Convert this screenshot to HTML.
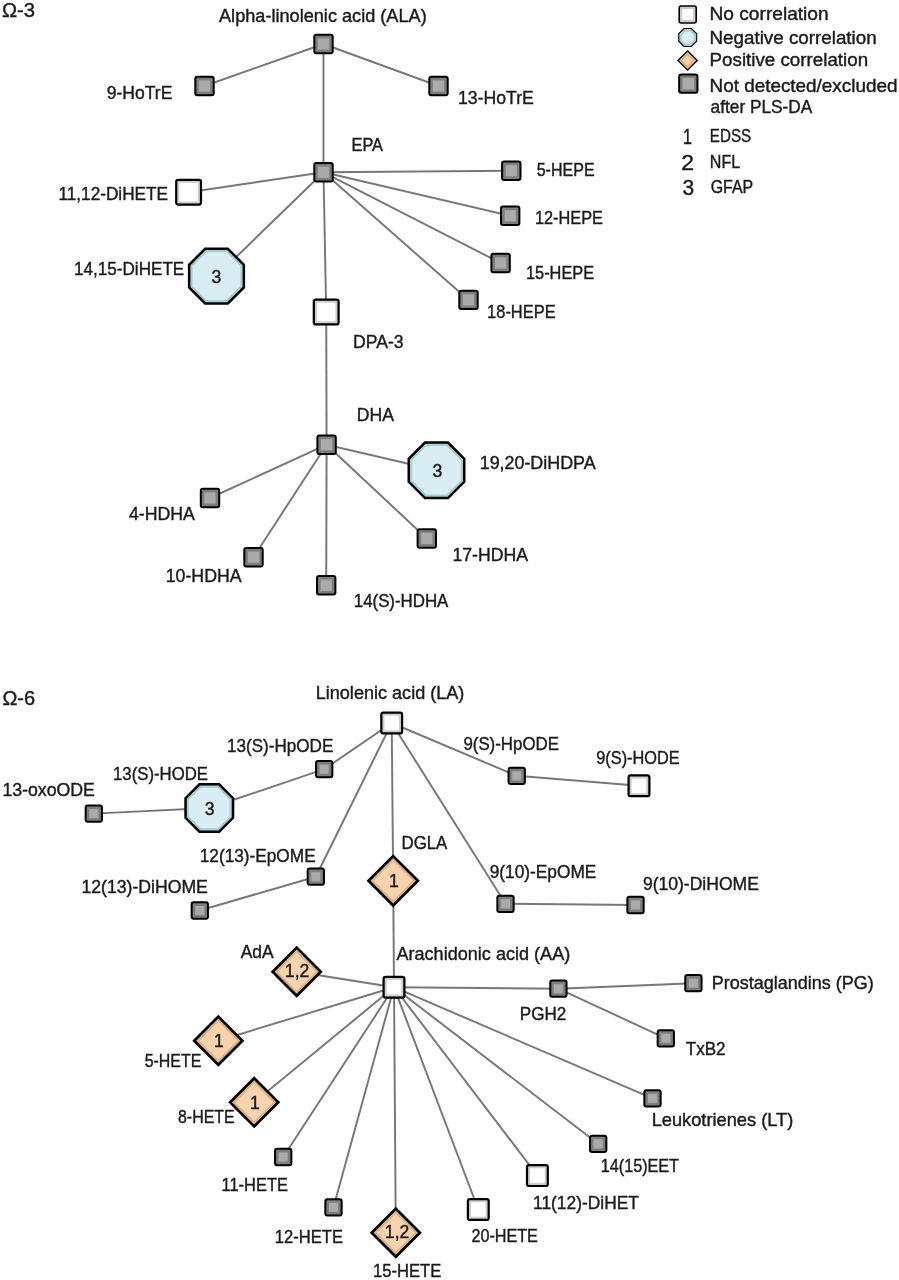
<!DOCTYPE html>
<html><head><meta charset="utf-8"><title>Omega-3 and Omega-6 pathways</title>
<style>html,body{margin:0;padding:0;background:#fff}svg{display:block}text{stroke:#1a1a1a;stroke-width:0.4px;font-family:"Liberation Sans","DejaVu Sans",sans-serif;fill:#1a1a1a}</style></head>
<body>
<svg width="899" height="1280" viewBox="0 0 899 1280">
<rect width="899" height="1280" fill="#fff"/>
<g stroke="#777" stroke-width="1.95" fill="none">
<line x1="323.5" y1="44" x2="204.5" y2="86"/>
<line x1="323.5" y1="44" x2="438.5" y2="86"/>
<line x1="323.5" y1="44" x2="323.5" y2="172.3"/>
<line x1="323.5" y1="172.3" x2="188.6" y2="192.2"/>
<line x1="323.5" y1="172.3" x2="216.5" y2="276.1"/>
<line x1="323.5" y1="172.3" x2="511.3" y2="170.7"/>
<line x1="323.5" y1="172.3" x2="510.2" y2="215.8"/>
<line x1="323.5" y1="172.3" x2="500.6" y2="263.0"/>
<line x1="323.5" y1="172.3" x2="468.5" y2="299.9"/>
<line x1="323.5" y1="172.3" x2="326.2" y2="312"/>
<line x1="326.2" y1="312" x2="326.6" y2="444.7"/>
<line x1="326.6" y1="444.7" x2="436.5" y2="470.3"/>
<line x1="326.6" y1="444.7" x2="210" y2="498.0"/>
<line x1="326.6" y1="444.7" x2="253.5" y2="557.2"/>
<line x1="326.6" y1="444.7" x2="326.2" y2="585.3"/>
<line x1="326.6" y1="444.7" x2="426.8" y2="538.5"/>
<line x1="391.7" y1="723" x2="324.2" y2="769.2"/>
<line x1="324.2" y1="769.2" x2="209.3" y2="808.0"/>
<line x1="209.3" y1="808.0" x2="93.8" y2="813.6"/>
<line x1="391.7" y1="723" x2="516.7" y2="775.8"/>
<line x1="516.7" y1="775.8" x2="639" y2="785.8"/>
<line x1="391.7" y1="723" x2="315.8" y2="876.7"/>
<line x1="315.8" y1="876.7" x2="199.8" y2="910.5"/>
<line x1="391.7" y1="723" x2="393.2" y2="880.8"/>
<line x1="391.7" y1="723" x2="505.5" y2="903.8"/>
<line x1="505.5" y1="903.8" x2="635.5" y2="905"/>
<line x1="393.2" y1="880.8" x2="394" y2="987.2"/>
<line x1="394" y1="987.2" x2="296.7" y2="971.7"/>
<line x1="394" y1="987.2" x2="218.3" y2="1040.7"/>
<line x1="394" y1="987.2" x2="254.2" y2="1102.3"/>
<line x1="394" y1="987.2" x2="283.2" y2="1157.0"/>
<line x1="394" y1="987.2" x2="333.5" y2="1207.3"/>
<line x1="394" y1="987.2" x2="395.8" y2="1232.7"/>
<line x1="394" y1="987.2" x2="478.3" y2="1209.5"/>
<line x1="394" y1="987.2" x2="537.4" y2="1175.6"/>
<line x1="394" y1="987.2" x2="598.2" y2="1143.8"/>
<line x1="394" y1="987.2" x2="652.5" y2="1098.3"/>
<line x1="394" y1="987.2" x2="558.4" y2="988.7"/>
<line x1="558.4" y1="988.7" x2="693.4" y2="983.2"/>
<line x1="558.4" y1="988.7" x2="665.8" y2="1038.3"/>
</g>
<g>
<rect x="314.30" y="34.80" width="18.40" height="18.40" rx="2" fill="#7e7e7e" stroke="#000" stroke-width="2.0"/><rect x="317.90" y="38.40" width="11.20" height="11.20" fill="#aaaaaa"/>
<rect x="195.30" y="76.80" width="18.40" height="18.40" rx="2" fill="#7e7e7e" stroke="#000" stroke-width="2.0"/><rect x="198.90" y="80.40" width="11.20" height="11.20" fill="#aaaaaa"/>
<rect x="429.30" y="76.80" width="18.40" height="18.40" rx="2" fill="#7e7e7e" stroke="#000" stroke-width="2.0"/><rect x="432.90" y="80.40" width="11.20" height="11.20" fill="#aaaaaa"/>
<rect x="314.30" y="163.10" width="18.40" height="18.40" rx="2" fill="#7e7e7e" stroke="#000" stroke-width="2.0"/><rect x="317.90" y="166.70" width="11.20" height="11.20" fill="#aaaaaa"/>
<rect x="176.20" y="179.80" width="24.80" height="24.80" rx="2" fill="#cdcdcd" stroke="#000" stroke-width="2.2"/><rect x="179.30" y="182.90" width="18.60" height="18.60" fill="#ffffff"/>
<polygon points="205.17,248.75 227.83,248.75 243.85,264.77 243.85,287.43 227.83,303.45 205.17,303.45 189.15,287.43 189.15,264.77" fill="#a9cdd1" stroke="#000" stroke-width="2.5" stroke-linejoin="miter"/><polygon points="206.60,252.20 226.40,252.20 240.40,266.20 240.40,286.00 226.40,300.00 206.60,300.00 192.60,286.00 192.60,266.20" fill="#d9eef4"/>
<rect x="502.10" y="161.50" width="18.40" height="18.40" rx="2" fill="#7e7e7e" stroke="#000" stroke-width="2.0"/><rect x="505.70" y="165.10" width="11.20" height="11.20" fill="#aaaaaa"/>
<rect x="501.00" y="206.60" width="18.40" height="18.40" rx="2" fill="#7e7e7e" stroke="#000" stroke-width="2.0"/><rect x="504.60" y="210.20" width="11.20" height="11.20" fill="#aaaaaa"/>
<rect x="491.40" y="253.80" width="18.40" height="18.40" rx="2" fill="#7e7e7e" stroke="#000" stroke-width="2.0"/><rect x="495.00" y="257.40" width="11.20" height="11.20" fill="#aaaaaa"/>
<rect x="459.30" y="290.70" width="18.40" height="18.40" rx="2" fill="#7e7e7e" stroke="#000" stroke-width="2.0"/><rect x="462.90" y="294.30" width="11.20" height="11.20" fill="#aaaaaa"/>
<rect x="313.80" y="299.60" width="24.80" height="24.80" rx="2" fill="#cdcdcd" stroke="#000" stroke-width="2.2"/><rect x="316.90" y="302.70" width="18.60" height="18.60" fill="#ffffff"/>
<rect x="317.40" y="435.50" width="18.40" height="18.40" rx="2" fill="#7e7e7e" stroke="#000" stroke-width="2.0"/><rect x="321.00" y="439.10" width="11.20" height="11.20" fill="#aaaaaa"/>
<polygon points="425.01,442.55 447.99,442.55 464.25,458.81 464.25,481.79 447.99,498.05 425.01,498.05 408.75,481.79 408.75,458.81" fill="#a9cdd1" stroke="#000" stroke-width="2.5" stroke-linejoin="miter"/><polygon points="426.43,446.00 446.57,446.00 460.80,460.23 460.80,480.37 446.57,494.60 426.43,494.60 412.20,480.37 412.20,460.23" fill="#d9eef4"/>
<rect x="200.80" y="488.80" width="18.40" height="18.40" rx="2" fill="#7e7e7e" stroke="#000" stroke-width="2.0"/><rect x="204.40" y="492.40" width="11.20" height="11.20" fill="#aaaaaa"/>
<rect x="244.30" y="548.00" width="18.40" height="18.40" rx="2" fill="#7e7e7e" stroke="#000" stroke-width="2.0"/><rect x="247.90" y="551.60" width="11.20" height="11.20" fill="#aaaaaa"/>
<rect x="317.00" y="576.10" width="18.40" height="18.40" rx="2" fill="#7e7e7e" stroke="#000" stroke-width="2.0"/><rect x="320.60" y="579.70" width="11.20" height="11.20" fill="#aaaaaa"/>
<rect x="417.60" y="529.30" width="18.40" height="18.40" rx="2" fill="#7e7e7e" stroke="#000" stroke-width="2.0"/><rect x="421.20" y="532.90" width="11.20" height="11.20" fill="#aaaaaa"/>
<rect x="381.30" y="712.60" width="20.80" height="20.80" rx="2" fill="#cdcdcd" stroke="#000" stroke-width="2.2"/><rect x="384.40" y="715.70" width="14.60" height="14.60" fill="#ffffff"/>
<rect x="316.05" y="761.05" width="16.30" height="16.30" rx="2" fill="#7e7e7e" stroke="#000" stroke-width="2.0"/><rect x="319.65" y="764.65" width="9.10" height="9.10" fill="#aaaaaa"/>
<polygon points="199.46,784.25 219.14,784.25 233.05,798.16 233.05,817.84 219.14,831.75 199.46,831.75 185.55,817.84 185.55,798.16" fill="#a9cdd1" stroke="#000" stroke-width="2.5" stroke-linejoin="miter"/><polygon points="200.89,787.70 217.71,787.70 229.60,799.59 229.60,816.41 217.71,828.30 200.89,828.30 189.00,816.41 189.00,799.59" fill="#d9eef4"/>
<rect x="85.65" y="805.45" width="16.30" height="16.30" rx="2" fill="#7e7e7e" stroke="#000" stroke-width="2.0"/><rect x="89.25" y="809.05" width="9.10" height="9.10" fill="#aaaaaa"/>
<rect x="508.55" y="767.65" width="16.30" height="16.30" rx="2" fill="#7e7e7e" stroke="#000" stroke-width="2.0"/><rect x="512.15" y="771.25" width="9.10" height="9.10" fill="#aaaaaa"/>
<rect x="628.60" y="775.40" width="20.80" height="20.80" rx="2" fill="#cdcdcd" stroke="#000" stroke-width="2.2"/><rect x="631.70" y="778.50" width="14.60" height="14.60" fill="#ffffff"/>
<rect x="307.65" y="868.55" width="16.30" height="16.30" rx="2" fill="#7e7e7e" stroke="#000" stroke-width="2.0"/><rect x="311.25" y="872.15" width="9.10" height="9.10" fill="#aaaaaa"/>
<rect x="191.65" y="902.35" width="16.30" height="16.30" rx="2" fill="#7e7e7e" stroke="#000" stroke-width="2.0"/><rect x="195.25" y="905.95" width="9.10" height="9.10" fill="#aaaaaa"/>
<polygon points="393.20,856.11 417.89,880.80 393.20,905.49 368.51,880.80" fill="#dcb38a" stroke="#000" stroke-width="2.7" stroke-linejoin="miter"/><polygon points="393.20,861.27 412.73,880.80 393.20,900.33 373.67,880.80" fill="#f9d3ad"/>
<rect x="497.35" y="895.65" width="16.30" height="16.30" rx="2" fill="#7e7e7e" stroke="#000" stroke-width="2.0"/><rect x="500.95" y="899.25" width="9.10" height="9.10" fill="#aaaaaa"/>
<rect x="627.35" y="896.85" width="16.30" height="16.30" rx="2" fill="#7e7e7e" stroke="#000" stroke-width="2.0"/><rect x="630.95" y="900.45" width="9.10" height="9.10" fill="#aaaaaa"/>
<rect x="383.60" y="976.80" width="20.80" height="20.80" rx="2" fill="#cdcdcd" stroke="#000" stroke-width="2.2"/><rect x="386.70" y="979.90" width="14.60" height="14.60" fill="#ffffff"/>
<polygon points="296.70,947.61 320.79,971.70 296.70,995.79 272.61,971.70" fill="#dcb38a" stroke="#000" stroke-width="2.7" stroke-linejoin="miter"/><polygon points="296.70,952.77 315.63,971.70 296.70,990.63 277.77,971.70" fill="#f9d3ad"/>
<polygon points="218.30,1016.61 242.39,1040.70 218.30,1064.79 194.21,1040.70" fill="#dcb38a" stroke="#000" stroke-width="2.7" stroke-linejoin="miter"/><polygon points="218.30,1021.77 237.23,1040.70 218.30,1059.63 199.37,1040.70" fill="#f9d3ad"/>
<polygon points="254.20,1078.21 278.29,1102.30 254.20,1126.39 230.11,1102.30" fill="#dcb38a" stroke="#000" stroke-width="2.7" stroke-linejoin="miter"/><polygon points="254.20,1083.37 273.13,1102.30 254.20,1121.23 235.27,1102.30" fill="#f9d3ad"/>
<rect x="275.05" y="1148.85" width="16.30" height="16.30" rx="2" fill="#7e7e7e" stroke="#000" stroke-width="2.0"/><rect x="278.65" y="1152.45" width="9.10" height="9.10" fill="#aaaaaa"/>
<rect x="325.35" y="1199.15" width="16.30" height="16.30" rx="2" fill="#7e7e7e" stroke="#000" stroke-width="2.0"/><rect x="328.95" y="1202.75" width="9.10" height="9.10" fill="#aaaaaa"/>
<polygon points="395.80,1208.61 419.89,1232.70 395.80,1256.79 371.71,1232.70" fill="#dcb38a" stroke="#000" stroke-width="2.7" stroke-linejoin="miter"/><polygon points="395.80,1213.77 414.73,1232.70 395.80,1251.63 376.87,1232.70" fill="#f9d3ad"/>
<rect x="467.90" y="1199.10" width="20.80" height="20.80" rx="2" fill="#cdcdcd" stroke="#000" stroke-width="2.2"/><rect x="471.00" y="1202.20" width="14.60" height="14.60" fill="#ffffff"/>
<rect x="527.00" y="1165.20" width="20.80" height="20.80" rx="2" fill="#cdcdcd" stroke="#000" stroke-width="2.2"/><rect x="530.10" y="1168.30" width="14.60" height="14.60" fill="#ffffff"/>
<rect x="590.05" y="1135.65" width="16.30" height="16.30" rx="2" fill="#7e7e7e" stroke="#000" stroke-width="2.0"/><rect x="593.65" y="1139.25" width="9.10" height="9.10" fill="#aaaaaa"/>
<rect x="644.35" y="1090.15" width="16.30" height="16.30" rx="2" fill="#7e7e7e" stroke="#000" stroke-width="2.0"/><rect x="647.95" y="1093.75" width="9.10" height="9.10" fill="#aaaaaa"/>
<rect x="550.25" y="980.55" width="16.30" height="16.30" rx="2" fill="#7e7e7e" stroke="#000" stroke-width="2.0"/><rect x="553.85" y="984.15" width="9.10" height="9.10" fill="#aaaaaa"/>
<rect x="685.25" y="975.05" width="16.30" height="16.30" rx="2" fill="#7e7e7e" stroke="#000" stroke-width="2.0"/><rect x="688.85" y="978.65" width="9.10" height="9.10" fill="#aaaaaa"/>
<rect x="657.65" y="1030.15" width="16.30" height="16.30" rx="2" fill="#7e7e7e" stroke="#000" stroke-width="2.0"/><rect x="661.25" y="1033.75" width="9.10" height="9.10" fill="#aaaaaa"/>
<rect x="679.20" y="6.00" width="17.00" height="17.00" rx="2" fill="#cdcdcd" stroke="#000" stroke-width="1.6"/><rect x="682.30" y="9.10" width="10.80" height="10.80" fill="#ffffff"/>
<polygon points="683.99,28.55 691.41,28.55 696.65,33.79 696.65,41.21 691.41,46.45 683.99,46.45 678.75,41.21 678.75,33.79" fill="#a9cdd1" stroke="#000" stroke-width="1.1" stroke-linejoin="miter"/><polygon points="685.17,31.40 690.23,31.40 693.80,34.97 693.80,40.03 690.23,43.60 685.17,43.60 681.60,40.03 681.60,34.97" fill="#d9eef4"/>
<polygon points="687.60,50.82 697.28,60.50 687.60,70.18 677.92,60.50" fill="#dcb38a" stroke="#000" stroke-width="1.3" stroke-linejoin="miter"/><polygon points="687.60,55.42 692.68,60.50 687.60,65.58 682.52,60.50" fill="#f9d3ad"/>
<rect x="679.15" y="74.45" width="18.30" height="18.30" rx="2" fill="#7e7e7e" stroke="#000" stroke-width="2.0"/><rect x="682.55" y="77.85" width="11.50" height="11.50" fill="#aaaaaa"/>
</g>
<g>
<text font-size="20.5" transform="translate(2.00,16.70) scale(0.9864,1)">Ω-3</text>
<text font-size="17.9" transform="translate(219.00,22.10) scale(1.0138,1)">Alpha-linolenic acid (ALA)</text>
<text font-size="17.9" transform="translate(106.70,98.70) scale(0.9806,1)">9-HoTrE</text>
<text font-size="17.9" transform="translate(458.01,103.70) scale(0.9875,1)">13-HoTrE</text>
<text font-size="17.9" transform="translate(351.49,151.10) scale(0.9124,1)">EPA</text>
<text font-size="17.9" transform="translate(536.70,176.20) scale(0.8965,1)">5-HEPE</text>
<text font-size="17.9" transform="translate(534.89,223.50) scale(0.9125,1)">12-HEPE</text>
<text font-size="17.9" transform="translate(525.99,279.10) scale(0.9139,1)">15-HEPE</text>
<text font-size="17.9" transform="translate(487.08,318.10) scale(0.9193,1)">18-HEPE</text>
<text font-size="17.9" transform="translate(353.02,348.30) scale(0.9838,1)">DPA-3</text>
<text font-size="17.9" transform="translate(58.44,199.60) scale(0.9613,1)">11,12-DiHETE</text>
<text font-size="17.9" transform="translate(74.04,275.20) scale(0.9554,1)">14,15-DiHETE</text>
<text font-size="17.9" transform="translate(356.71,421.20) scale(0.9853,1)">DHA</text>
<text font-size="17.9" transform="translate(479.70,468.70) scale(0.9994,1)">19,20-DiHDPA</text>
<text font-size="17.9" transform="translate(129.00,519.70) scale(0.9900,1)">4-HDHA</text>
<text font-size="17.9" transform="translate(165.71,582.20) scale(0.9918,1)">10-HDHA</text>
<text font-size="17.9" transform="translate(353.76,607.10) scale(0.9430,1)">14(S)-HDHA</text>
<text font-size="17.9" transform="translate(452.41,561.40) scale(0.9865,1)">17-HDHA</text>
<text font-size="20.5" transform="translate(2.40,704.70) scale(0.9743,1)">Ω-6</text>
<text font-size="17.9" transform="translate(315.69,698.70) scale(1.0102,1)">Linolenic acid (LA)</text>
<text font-size="17.9" transform="translate(227.05,752.40) scale(0.9546,1)">13(S)-HpODE</text>
<text font-size="17.9" transform="translate(113.06,780.40) scale(0.9357,1)">13(S)-HODE</text>
<text font-size="17.9" transform="translate(2.41,796.40) scale(0.9899,1)">13-oxoODE</text>
<text font-size="17.9" transform="translate(463.40,750.40) scale(0.9422,1)">9(S)-HpODE</text>
<text font-size="17.9" transform="translate(596.30,764.40) scale(0.9114,1)">9(S)-HODE</text>
<text font-size="17.9" transform="translate(199.74,862.10) scale(0.9634,1)">12(13)-EpOME</text>
<text font-size="17.9" transform="translate(81.41,893.10) scale(0.9866,1)">12(13)-DiHOME</text>
<text font-size="17.9" transform="translate(401.46,849.10) scale(0.9417,1)">DGLA</text>
<text font-size="17.9" transform="translate(489.70,877.70) scale(0.9663,1)">9(10)-EpOME</text>
<text font-size="17.9" transform="translate(642.90,890.40) scale(0.9801,1)">9(10)-DiHOME</text>
<text font-size="17.9" transform="translate(396.40,959.90) scale(1.0107,1)">Arachidonic acid (AA)</text>
<text font-size="17.9" transform="translate(240.70,958.30) scale(0.9739,1)">AdA</text>
<text font-size="17.9" transform="translate(144.70,1067.10) scale(0.8903,1)">5-HETE</text>
<text font-size="17.9" transform="translate(178.00,1122.90) scale(0.8903,1)">8-HETE</text>
<text font-size="17.9" transform="translate(221.48,1191.40) scale(0.9199,1)">11-HETE</text>
<text font-size="17.9" transform="translate(274.77,1242.70) scale(0.9265,1)">12-HETE</text>
<text font-size="17.9" transform="translate(373.07,1277.40) scale(0.9279,1)">15-HETE</text>
<text font-size="17.9" transform="translate(471.40,1242.10) scale(0.9044,1)">20-HETE</text>
<text font-size="17.9" transform="translate(533.03,1208.70) scale(0.9714,1)">11(12)-DiHET</text>
<text font-size="17.9" transform="translate(600.80,1172.10) scale(0.9032,1)">14(15)EET</text>
<text font-size="17.9" transform="translate(651.68,1126.30) scale(1.0196,1)">Leukotrienes (LT)</text>
<text font-size="17.9" transform="translate(519.74,1020.40) scale(0.9567,1)">PGH2</text>
<text font-size="17.9" transform="translate(711.69,988.70) scale(1.0055,1)">Prostaglandins (PG)</text>
<text font-size="17.9" transform="translate(685.70,1054.70) scale(0.9568,1)">TxB2</text>
<text font-size="17.9" transform="translate(709.53,19.50) scale(1.0702,1)">No correlation</text>
<text font-size="17.9" transform="translate(709.55,43.70) scale(1.0499,1)">Negative correlation</text>
<text font-size="17.9" transform="translate(709.55,65.90) scale(1.0496,1)">Positive correlation</text>
<text font-size="17.9" transform="translate(709.54,91.60) scale(1.0558,1)">Not detected/excluded</text>
<text font-size="17.9" transform="translate(710.60,112.50) scale(0.9653,1)">after PLS-DA</text>
<text font-size="17.9" transform="translate(709.85,142.40) scale(0.8475,1)">EDSS</text>
<text font-size="17.9" transform="translate(709.80,168.00) scale(0.8981,1)">NFL</text>
<text font-size="17.9" transform="translate(710.70,193.30) scale(0.8912,1)">GFAP</text>
<text font-size="21.3" transform="translate(682.94,143.80) scale(0.7600,1)">1</text>
<text font-size="21.3" transform="translate(681.32,169.60) scale(1.0800,1)">2</text>
<text font-size="21.3" transform="translate(682.40,194.70) scale(0.9818,1)">3</text>
<text font-size="17.6" transform="translate(211.40,282.90) scale(1.0000,1)">3</text>
<text font-size="17.6" transform="translate(432.50,476.90) scale(1.0000,1)">3</text>
<text font-size="17.6" transform="translate(204.70,814.60) scale(1.0000,1)">3</text>
<text font-size="17.6" transform="translate(388.90,887.40) scale(1.0000,1)">1</text>
<text font-size="17.6" transform="translate(284.86,977.20) scale(1.0000,1)">1,2</text>
<text font-size="17.6" transform="translate(214.00,1046.90) scale(1.0000,1)">1</text>
<text font-size="17.6" transform="translate(250.00,1108.70) scale(1.0000,1)">1</text>
<text font-size="17.6" transform="translate(384.86,1238.20) scale(1.0000,1)">1,2</text>
</g>
</svg>
</body></html>
